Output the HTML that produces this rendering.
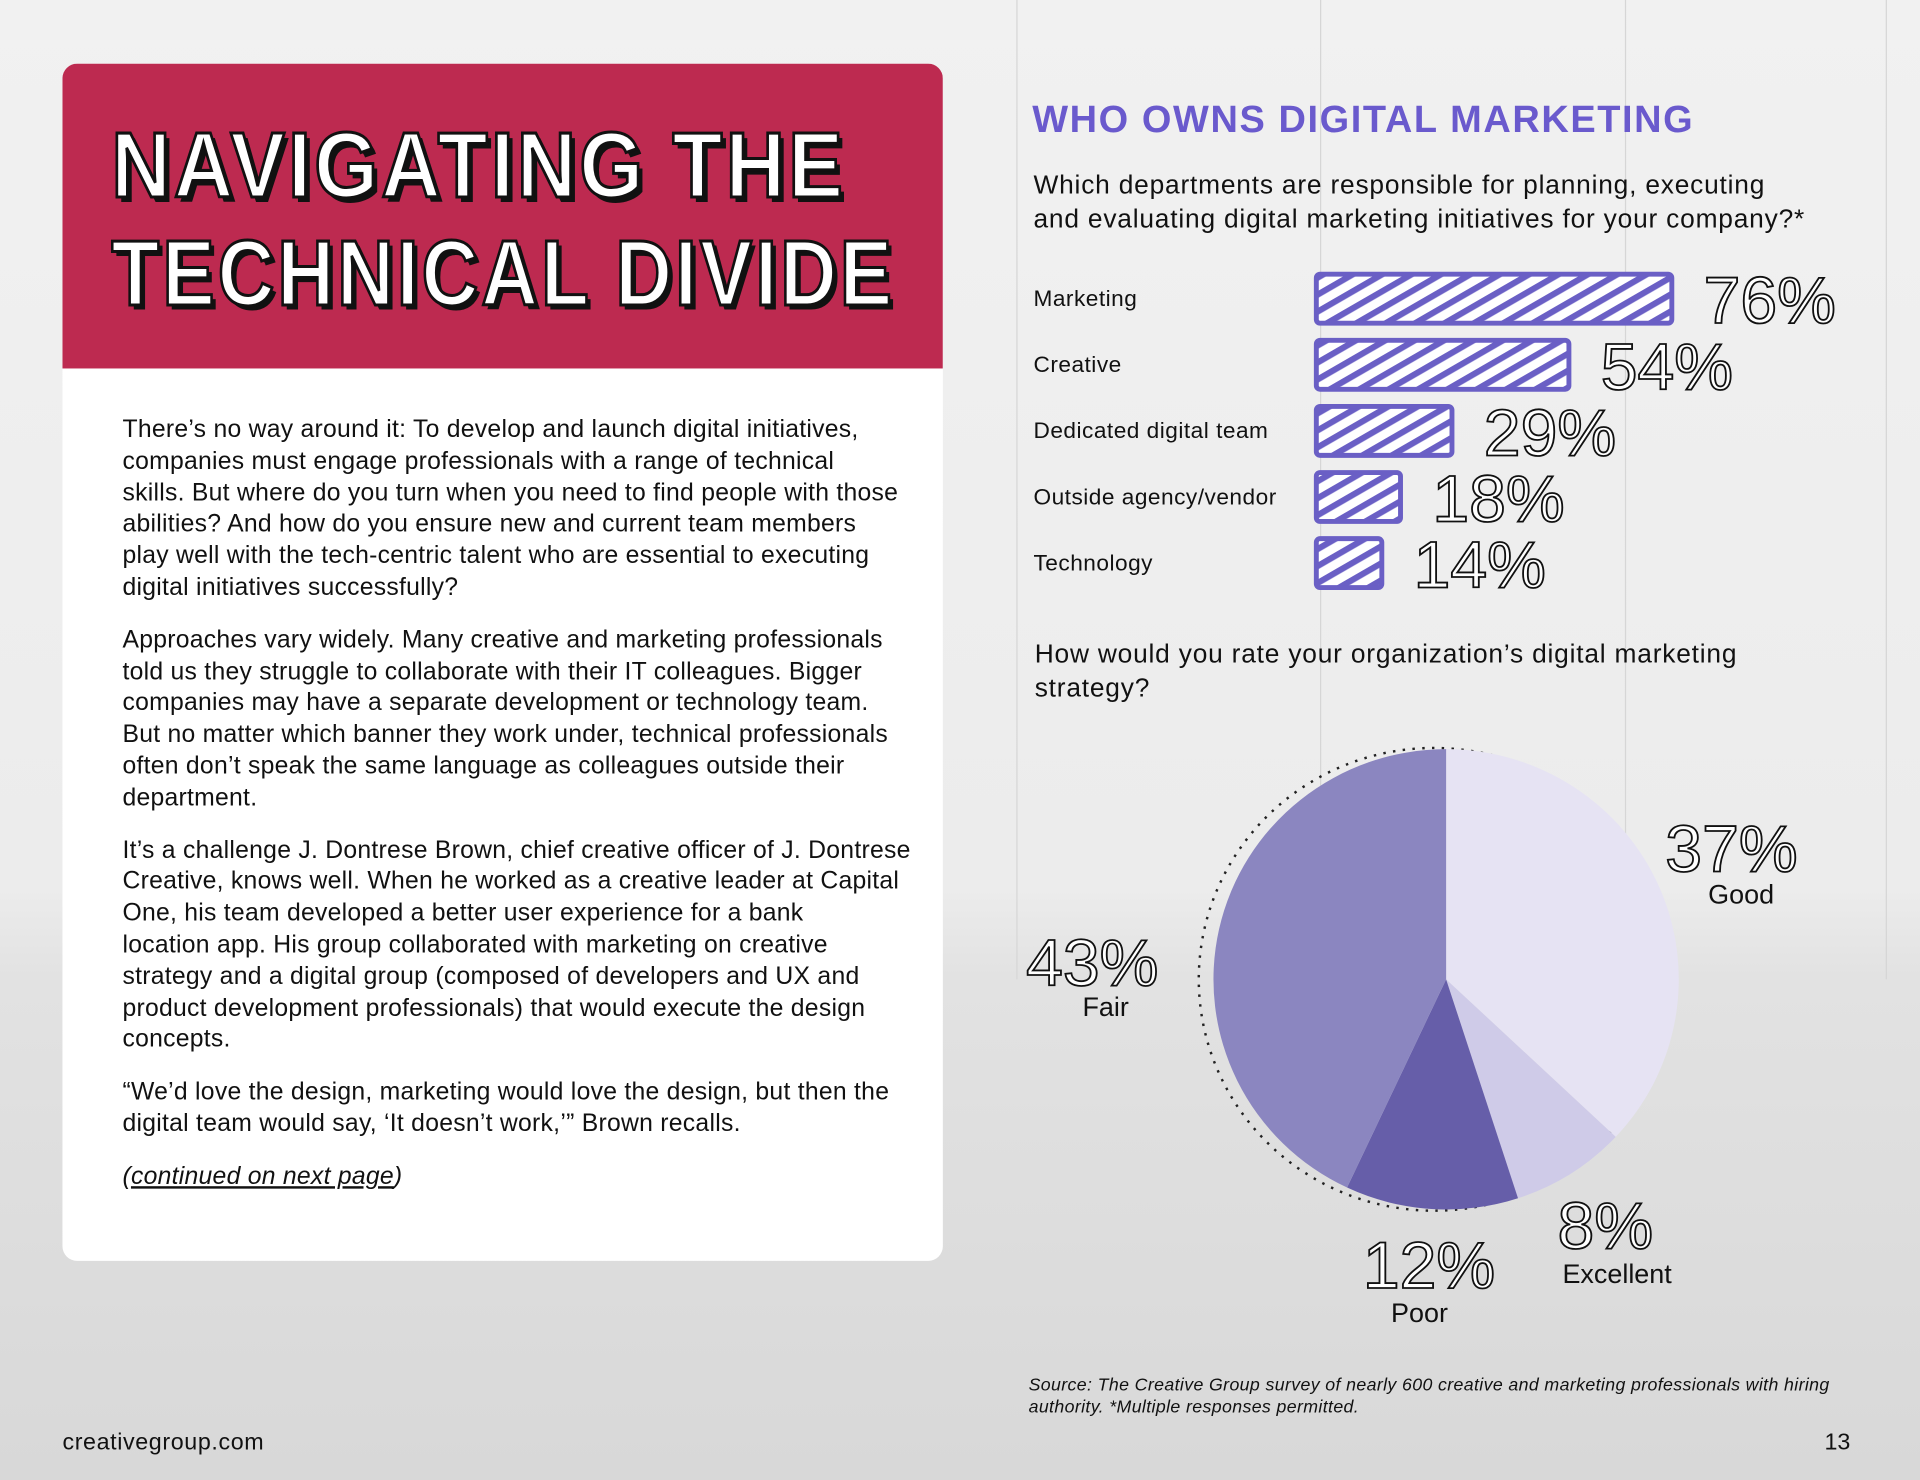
<!DOCTYPE html>
<html><head><meta charset="utf-8"><style>
html,body{margin:0;padding:0;width:1920px;height:1480px;overflow:hidden;background:#eee;}
#root{position:absolute;left:0;top:0;width:1568px;height:1209px;transform-origin:0 0;transform:scale(1.22449,1.22415);
font-family:"Liberation Sans",sans-serif;color:#111;
background:linear-gradient(180deg,#f1f1f1 0%,#ececec 60%,#e2e2e2 66%,#d8d8d8 100%);overflow:hidden;}
.vl{position:absolute;top:0;height:800px;width:1px;background:#d6d6d6;}
.card{position:absolute;left:51px;top:52px;width:719px;height:978px;background:#fff;border-radius:12px;overflow:hidden;}
.hdr{position:absolute;left:0;top:0;width:719px;height:249px;background:#bd2a50;}
.ttl{position:absolute;left:40px;font-family:"Liberation Sans Narrow","Liberation Sans",sans-serif;font-size:76px;font-weight:bold;color:#fff;-webkit-text-stroke:2.5px #111;letter-spacing:3px;text-shadow:4px 4px 0 #111;white-space:nowrap;transform-origin:0 0;}
.body{position:absolute;left:49px;top:287px;width:660px;font-size:20.2px;line-height:25.8px;color:#111;letter-spacing:0.22px;white-space:nowrap;}
.body p{margin:0 0 17px 0;}
.h2{position:absolute;left:843px;top:80px;font-size:31px;font-weight:bold;color:#6a5acd;letter-spacing:1.3px;white-space:nowrap;}
.q{position:absolute;left:844px;font-size:21.5px;line-height:28px;letter-spacing:0.65px;white-space:nowrap;}
.lab{position:absolute;font-size:18.5px;letter-spacing:0.4px;}
.pct{font-family:"Liberation Sans Narrow","Liberation Sans",sans-serif;font-size:54px;fill:#fff;stroke:#111;stroke-width:1.5;}
.pl{position:absolute;font-size:22px;}
</style></head><body>
<div id="root">
<div class="vl" style="left:830px"></div><div class="vl" style="left:1078px"></div><div class="vl" style="left:1327px"></div><div class="vl" style="left:1540px"></div>
<div class="card">
 <div class="hdr">
  <div class="ttl" id="t1" style="top:40px">NAVIGATING THE</div>
  <div class="ttl" id="t2" style="top:128px">TECHNICAL DIVIDE</div>
 </div>
 <div class="body">
  <p>There’s no way around it: To develop and launch digital initiatives,<br>companies must engage professionals with a range of technical<br>skills. But where do you turn when you need to find people with those<br>abilities? And how do you ensure new and current team members<br>play well with the tech-centric talent who are essential to executing<br>digital initiatives successfully?</p>
  <p>Approaches vary widely. Many creative and marketing professionals<br>told us they struggle to collaborate with their IT colleagues. Bigger<br>companies may have a separate development or technology team.<br>But no matter which banner they work under, technical professionals<br>often don’t speak the same language as colleagues outside their<br>department.</p>
  <p>It’s a challenge J. Dontrese Brown, chief creative officer of J. Dontrese<br>Creative, knows well. When he worked as a creative leader at Capital<br>One, his team developed a better user experience for a bank<br>location app. His group collaborated with marketing on creative<br>strategy and a digital group (composed of developers and UX and<br>product development professionals) that would execute the design<br>concepts.</p>
  <p>“We’d love the design, marketing would love the design, but then the<br>digital team would say, ‘It doesn’t work,’” Brown recalls.</p>
  <p><i>(<u>continued on next page</u>)</i></p>
 </div>
</div>
<div class="h2">WHO OWNS DIGITAL MARKETING</div>
<div class="q" style="top:137px">Which departments are responsible for planning, executing<br>and evaluating digital marketing initiatives for your company?*</div>
<div class="q" style="top:520px;left:845px">How would you rate your organization’s digital marketing<br>strategy?</div>
<svg id="chart" width="1568" height="1209" style="position:absolute;left:0;top:0">
<defs><pattern id="hatch" width="12" height="12" patternUnits="userSpaceOnUse" patternTransform="rotate(60)"><rect width="12" height="12" fill="#fff"/><rect width="5" height="12" fill="#6a5fc5"/></pattern></defs>
</svg>
<div class="pl" style="left:884px;top:810px">Fair</div>
<div class="pl" style="left:1395px;top:718px">Good</div>
<div class="pl" style="left:1136px;top:1060px">Poor</div>
<div class="pl" style="left:1276px;top:1028px">Excellent</div>
<div style="position:absolute;left:840px;top:1123px;font-size:14.5px;font-style:italic;line-height:18px;width:680px;letter-spacing:0.3px">Source: The Creative Group survey of nearly 600 creative and marketing professionals with hiring authority. *Multiple responses permitted.</div>
<div style="position:absolute;left:51px;top:1168px;font-size:19px;letter-spacing:0.5px">creativegroup.com</div>
<div style="position:absolute;left:1490px;top:1168px;font-size:19px">13</div>
</div>
<script>
const barCats=["Marketing","Creative","Dedicated digital team","Outside agency/vendor","Technology"];
const barVals=[76,54,29,18,14];
const pieCats=["Good","Excellent","Poor","Fair"];
const pieVals=[37,8,12,43];
const NS="http://www.w3.org/2000/svg";
const svg=document.getElementById('chart');
const root=document.getElementById('root');
[["t1",600],["t2",640]].forEach(([id,w])=>{const e=document.getElementById(id);const cw=e.getBoundingClientRect().width/1.22449;e.style.transform='scaleX('+(w/cw)+')';});
const x0=1075, pxPer=3.82, yTop=224, step=54, bh=40;
function xs(v){return v*pxPer;}
function yb(i){return yTop+i*step;}
barCats.forEach((c,i)=>{
 const r=document.createElementNS(NS,'rect');
 r.setAttribute('x',x0);r.setAttribute('y',yb(i));r.setAttribute('width',xs(barVals[i]));r.setAttribute('height',bh);
 r.setAttribute('fill','url(#hatch)');r.setAttribute('stroke','#6a5fc5');r.setAttribute('stroke-width','4');r.setAttribute('rx','3');
 
 
 svg.appendChild(r);
 const t=document.createElementNS(NS,'text');
 t.setAttribute('x',x0+xs(barVals[i])+26);t.setAttribute('y',yb(i)+40);t.setAttribute('class','pct');
 t.textContent=barVals[i]+'%';
 
 
 svg.appendChild(t);
 const d=document.createElement('div');d.className='lab';d.style.left='844px';d.style.top=(yb(i)+9)+'px';d.textContent=c;
 
 
 root.appendChild(d);
});
const cx=1181, cy=800, rx=190, ry=188;
const shadow=document.createElementNS(NS,'ellipse');
shadow.setAttribute('cx',cx-10);shadow.setAttribute('cy',cy);shadow.setAttribute('rx',rx+2);shadow.setAttribute('ry',ry+1);
shadow.setAttribute('fill','none');shadow.setAttribute('stroke','#222');shadow.setAttribute('stroke-width','2');shadow.setAttribute('stroke-dasharray','2 6');


svg.appendChild(shadow);
const cols=["#e6e3f3","#cfcbe8","#665ea9","#8b86c0"];
const tot=pieVals.reduce((a,b)=>a+b,0);
let acc=0;
function pt(f){const a=f*2*Math.PI;return [cx+rx*Math.sin(a),cy-ry*Math.cos(a)];}
const labPos=[[1360,712],[1272,1020],[1113,1052],[838,805]];
pieVals.forEach((v,i)=>{
 const a0=acc/tot, a1=(acc+v)/tot; acc+=v;
 const p0=pt(a0),p1=pt(a1);
 const p=document.createElementNS(NS,'path');
 p.setAttribute('d',`M${cx},${cy} L${p0[0]},${p0[1]} A${rx},${ry} 0 ${(a1-a0)>0.5?1:0} 1 ${p1[0]},${p1[1]} Z`);
 p.setAttribute('fill',cols[i]);
 
 
 svg.appendChild(p);
 const t=document.createElementNS(NS,'text');
 t.setAttribute('x',labPos[i][0]);t.setAttribute('y',labPos[i][1]);t.setAttribute('class','pct');t.setAttribute('font-size','60');
 t.textContent=v+'%';
 
 
 svg.appendChild(t);
});
</script>
</body></html>
